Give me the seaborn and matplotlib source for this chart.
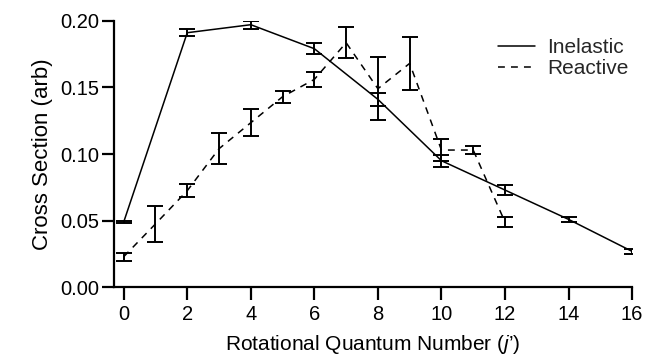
import pandas as pd
import seaborn as sns
import matplotlib.pyplot as plt
import numpy as np

# Data
inel_j = [0, 2, 4, 6, 8, 10, 12, 14, 16]
inel_val = [0.049, 0.191, 0.197, 0.179, 0.141, 0.095, 0.073, 0.051, 0.027]
inel_err = [0.0008, 0.0025, 0.003, 0.004, 0.005, 0.0045, 0.004, 0.002, 0.0017]

reac_j = [0, 1, 2, 3, 4, 5, 6, 7, 8, 9, 10, 11, 12]
reac_val = [0.023, 0.0476, 0.0725, 0.104, 0.1235, 0.143, 0.156, 0.1835, 0.149, 0.168, 0.103, 0.103, 0.049]
reac_err = [0.003, 0.0135, 0.005, 0.0115, 0.010, 0.0045, 0.0058, 0.0115, 0.0235, 0.020, 0.008, 0.0028, 0.0038]

x_ticks = [0, 2, 4, 6, 8, 10, 12, 14, 16]
y_ticks = [0.00, 0.05, 0.10, 0.15, 0.20]

df = pd.concat([
    pd.DataFrame({'j': inel_j, 'cs': inel_val, 'err': inel_err, 'kind': 'Inelastic'}),
    pd.DataFrame({'j': reac_j, 'cs': reac_val, 'err': reac_err, 'kind': 'Reactive'}),
])

sns.set_theme(style="ticks")
plt.rcParams['font.family'] = ['Liberation Sans', 'DejaVu Sans']
plt.rcParams['mathtext.fontset'] = 'custom'
plt.rcParams['mathtext.it'] = 'Liberation Sans:italic'
plt.rcParams['mathtext.rm'] = 'Liberation Sans'

fig = plt.figure(figsize=(6.45, 3.57), dpi=100)
ax = fig.add_axes([0.177, 0.195, 0.803, 0.747])

sns.lineplot(data=df, x='j', y='cs', style='kind', color='black', linewidth=1.1,
             dashes={'Inelastic': '', 'Reactive': (4.5, 4)}, ax=ax)

# error bars
for kind, sub in df.groupby('kind'):
    ax.errorbar(sub['j'], sub['cs'], yerr=sub['err'], fmt='none', ecolor='black',
                elinewidth=1.4, capsize=6, capthick=1.4)

ax.set_xlim(-0.3, 16)
ax.set_ylim(0, 0.2)
ax.set_xticks(x_ticks)
ax.set_yticks(y_ticks)
ax.set_yticklabels([f'{v:.2f}' for v in y_ticks])
ax.tick_params(direction='out', length=9, width=1.6, labelsize=14.5, colors='black')
ax.tick_params(axis='y', pad=2)
ax.tick_params(axis='x', pad=4)
for s in ['left', 'bottom']:
    ax.spines[s].set_linewidth(1.6)
    ax.spines[s].set_color('black')
sns.despine(ax=ax)

ax.set_xlabel(r"Rotational Quantum Number ($\mathit{j}$’)", fontsize=15, color='black', labelpad=6)
ax.set_ylabel('Cross Section (arb)', fontsize=16, color='black', labelpad=5)

leg = ax.legend(title=None, frameon=False, fontsize=15, loc='upper right',
                bbox_to_anchor=(1.03, 1.005), handlelength=1.8, labelspacing=0.1,
                handletextpad=0.6)

fig.savefig('out.png', dpi=100)
plt.close(fig)
